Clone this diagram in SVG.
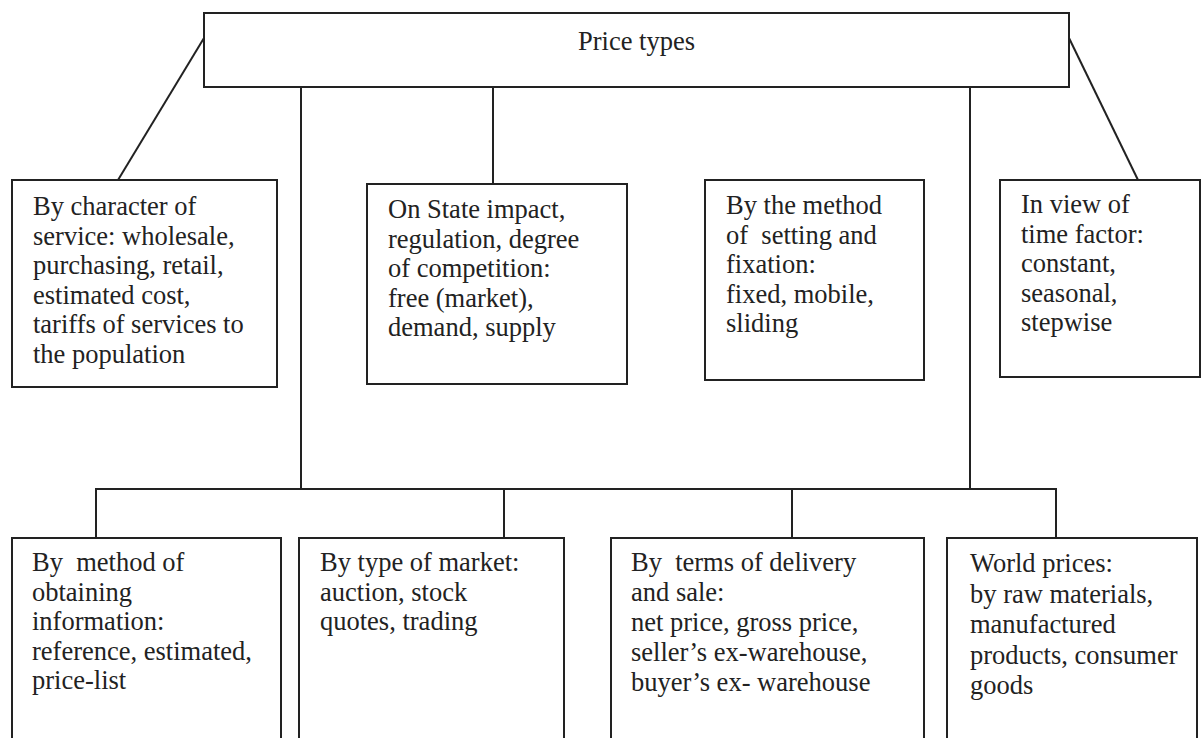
<svg xmlns="http://www.w3.org/2000/svg" width="1203" height="738" viewBox="0 0 1203 738">
<style>
.box{fill:#fff;stroke:#222;stroke-width:2}
.ln{fill:none;stroke:#222;stroke-width:2}
text{font-family:"Liberation Serif","Times New Roman",serif;font-size:26.5px;fill:#222;white-space:pre}
</style>
<rect width="1203" height="738" fill="#fff"/>
<g id="connectors">
<line class="ln" x1="204" y1="38" x2="118" y2="180"/>
<line class="ln" x1="1069" y1="38" x2="1138" y2="180"/>
<line class="ln" x1="493" y1="87" x2="493" y2="184"/>
<line class="ln" x1="301" y1="87" x2="301" y2="489"/>
<line class="ln" x1="970" y1="87" x2="970" y2="489"/>
<polyline class="ln" points="96,538 96,489 1056,489 1056,538"/>
<line class="ln" x1="504" y1="489" x2="504" y2="538"/>
<line class="ln" x1="792" y1="489" x2="792" y2="538"/>
</g>
<g id="root">
<rect class="box" x="204" y="13" width="865" height="74"/>
<text x="578" y="50">Price types</text>
</g>
<g id="by-character">
<rect class="box" x="12" y="180" width="265" height="207"/>
<text x="33" y="215">By character of</text>
<text x="33" y="244.5">service: wholesale,</text>
<text x="33" y="274">purchasing, retail,</text>
<text x="33" y="303.5">estimated cost,</text>
<text x="33" y="333">tariffs of services to</text>
<text x="33" y="362.5">the population</text>
</g>
<g id="state-impact">
<rect class="box" x="367" y="184" width="260" height="200"/>
<text x="388" y="218">On State impact,</text>
<text x="388" y="247.5">regulation, degree</text>
<text x="388" y="277">of competition:</text>
<text x="388" y="306.5">free (market),</text>
<text x="388" y="336">demand, supply</text>
</g>
<g id="method-setting">
<rect class="box" x="705" y="180" width="219" height="200"/>
<text x="726" y="214">By the method</text>
<text x="726" y="243.5">of  setting and</text>
<text x="726" y="273">fixation:</text>
<text x="726" y="302.5">fixed, mobile,</text>
<text x="726" y="332">sliding</text>
</g>
<g id="time-factor">
<rect class="box" x="1000" y="180" width="200" height="197"/>
<text x="1021" y="213">In view of</text>
<text x="1021" y="242.5">time factor:</text>
<text x="1021" y="272">constant,</text>
<text x="1021" y="301.5">seasonal,</text>
<text x="1021" y="331">stepwise</text>
</g>
<g id="obtaining-info">
<rect class="box" x="12" y="538" width="269" height="220"/>
<text x="32" y="571">By  method of</text>
<text x="32" y="600.5">obtaining</text>
<text x="32" y="630">information:</text>
<text x="32" y="659.5">reference, estimated,</text>
<text x="32" y="689">price-list</text>
</g>
<g id="type-market">
<rect class="box" x="299" y="538" width="265" height="220"/>
<text x="320" y="571">By type of market:</text>
<text x="320" y="600.5">auction, stock</text>
<text x="320" y="630">quotes, trading</text>
</g>
<g id="terms-delivery">
<rect class="box" x="611" y="538" width="313" height="220"/>
<text x="631" y="571">By  terms of delivery</text>
<text x="631" y="601">and sale:</text>
<text x="631" y="631">net price, gross price,</text>
<text x="631" y="661">seller’s ex-warehouse,</text>
<text x="631" y="691">buyer’s ex- warehouse</text>
</g>
<g id="world-prices">
<rect class="box" x="947" y="538" width="250" height="220"/>
<text x="970" y="572">World prices:</text>
<text x="970" y="602.5">by raw materials,</text>
<text x="970" y="633">manufactured</text>
<text x="970" y="663.5">products, consumer</text>
<text x="970" y="694">goods</text>
</g>
</svg>
